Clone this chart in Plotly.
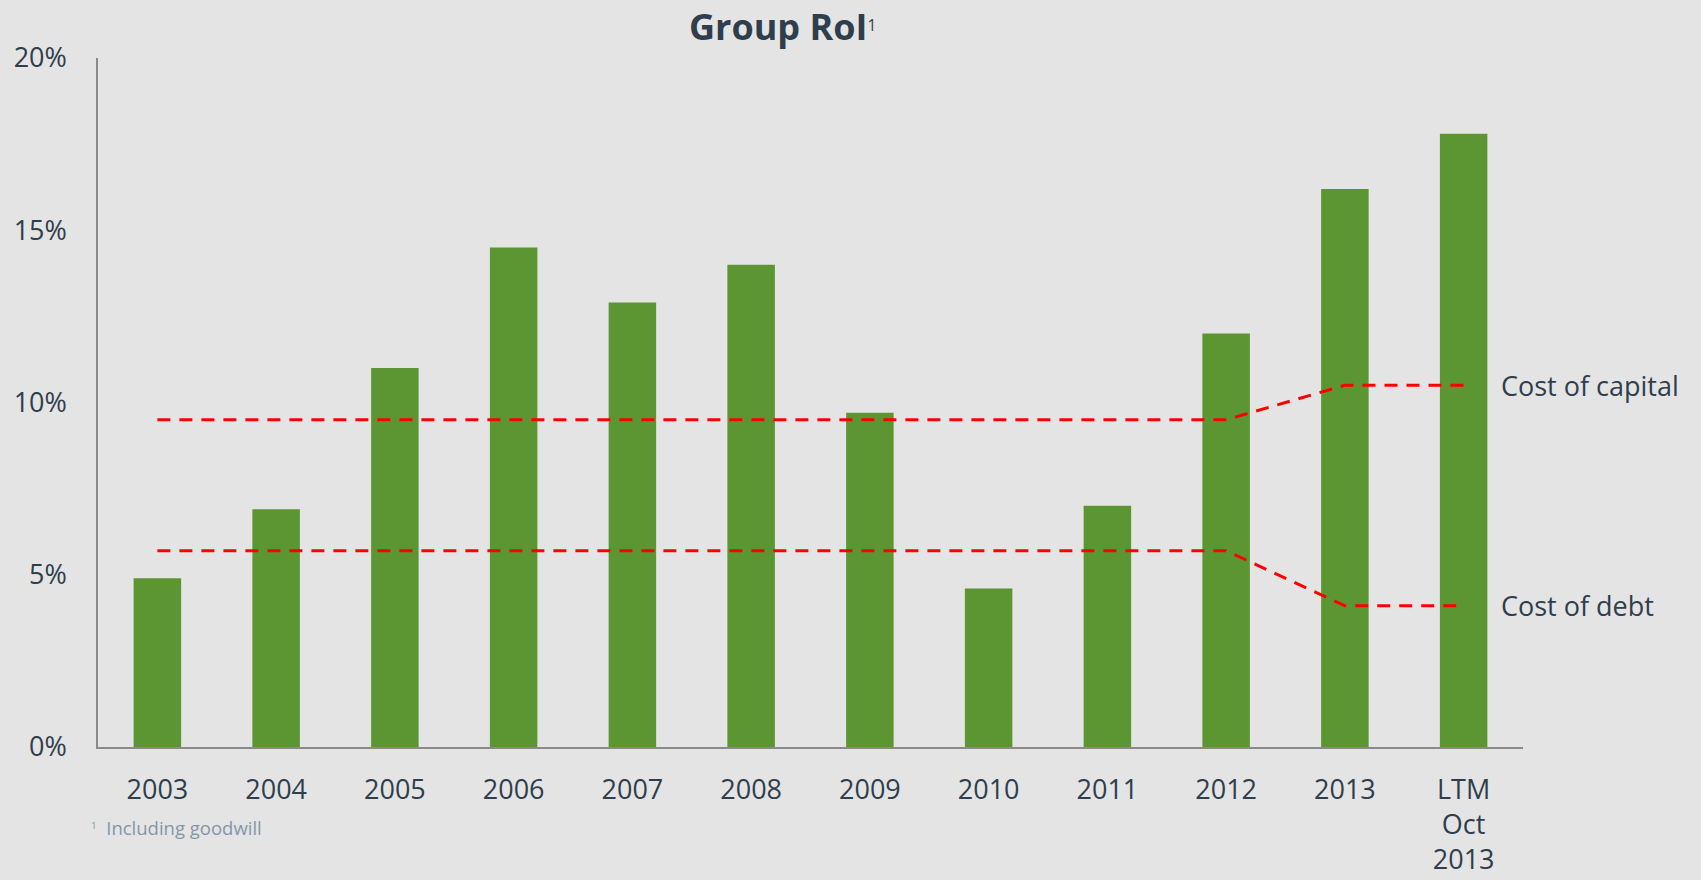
import plotly.graph_objects as go

categories = ["2003", "2004", "2005", "2006", "2007", "2008", "2009", "2010",
              "2011", "2012", "2013", "LTM<br>Oct<br>2013"]
roi = [4.9, 6.9, 11.0, 14.5, 12.9, 14.0, 9.7, 4.6, 7.0, 12.0, 16.2, 17.8]
cost_of_capital = [9.5, 9.5, 9.5, 9.5, 9.5, 9.5, 9.5, 9.5, 9.5, 9.5, 10.5, 10.5]
cost_of_debt = [5.7, 5.7, 5.7, 5.7, 5.7, 5.7, 5.7, 5.7, 5.7, 5.7, 4.1, 4.1]
y_ticks = [0, 5, 10, 15, 20]

BG = "#e4e4e4"
TEXT = "#2f3e4c"
GREEN = "#5c9632"
RED = "#ff0000"
FONT = "Open Sans"

fig = go.Figure()
fig.add_trace(go.Bar(x=categories, y=roi, marker=dict(color=GREEN, line=dict(width=0)),
                     showlegend=False, hoverinfo="skip"))
for series in (cost_of_capital, cost_of_debt):
    fig.add_trace(go.Scatter(x=categories, y=series, mode="lines",
                             line=dict(color=RED, width=3, dash="13px,9px"),
                             showlegend=False, hoverinfo="skip"))

fig.update_layout(
    width=1701, height=880,
    paper_bgcolor=BG, plot_bgcolor=BG,
    margin=dict(l=98, r=178, t=58, b=133, autoexpand=False),
    bargap=0.6,
    font=dict(family=FONT, color=TEXT, size=27),
)
fig.update_xaxes(
    type="category", range=[-0.5, 11.5], showgrid=False, zeroline=False,
    showline=True, linecolor="#8a8a8a", linewidth=1.5, ticks="",
    ticklabelstandoff=18,
    tickfont=dict(family=FONT, size=27, color=TEXT), tickangle=0,
)
fig.update_yaxes(
    range=[0, 20], tickvals=y_ticks, ticktext=[f"{v}%" for v in y_ticks],
    showgrid=False, zeroline=False, showline=True, linecolor="#8a8a8a", linewidth=1.5,
    ticks="", ticklabelstandoff=24,
    tickfont=dict(family=FONT, size=27, color=TEXT),
)

fig.add_annotation(
    xref="paper", yref="paper", x=0.48, y=1.045, xanchor="center", yanchor="middle",
    text="<b>Group RoI</b><span style='font-size:22px'><sup>1</sup></span>",
    showarrow=False, font=dict(family=FONT, size=36, color=TEXT),
)
fig.add_annotation(
    xref="paper", yref="y", x=0.983, y=cost_of_capital[-1], xanchor="left", yanchor="middle",
    text="Cost of capital", showarrow=False, font=dict(family=FONT, size=27, color=TEXT),
)
fig.add_annotation(
    xref="paper", yref="y", x=0.983, y=cost_of_debt[-1], xanchor="left", yanchor="middle",
    text="Cost of debt", showarrow=False, font=dict(family=FONT, size=27, color=TEXT),
)
fig.add_annotation(
    xref="paper", yref="paper", x=-0.006, y=-0.117, xanchor="left", yanchor="middle",
    text="<span style='font-size:14px'><sup>1</sup></span>  Including goodwill",
    showarrow=False, font=dict(family=FONT, size=18.5, color="#8497a8"),
)

fig.write_html("out.html", config={"displayModeBar": False},
               post_script="document.body.style.margin='0';")
